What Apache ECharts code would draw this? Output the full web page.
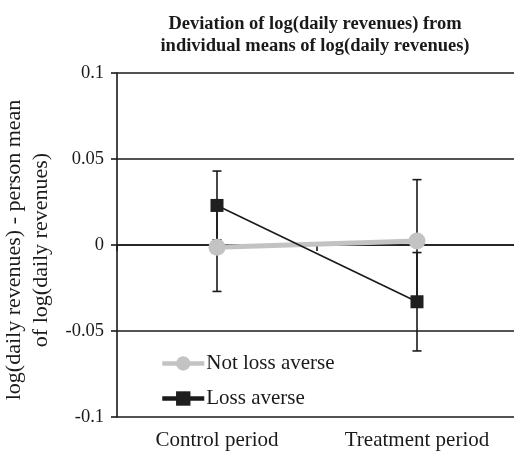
<!DOCTYPE html>
<html>
<head>
<meta charset="utf-8">
<script src="https://cdn.jsdelivr.net/npm/echarts@6/dist/echarts.min.js"></script>
<style>html,body{margin:0;padding:0;background:#fff;}#c{width:514px;height:451px;}</style>
</head>
<body>
<div id="c"></div>
<script>
var categories = ['Control period', 'Treatment period'];
var notLossAverse = [-0.0013, 0.0023];
var notLossAverseErr = [0.0257, 0.0357];
var lossAverse = [0.023, -0.033];
var lossAverseErr = [0.020, 0.0286];
var yTickLabels = ['-0.1', '-0.05', '0', '0.05', '0.1'];
var seriesNames = ['Not loss averse', 'Loss averse'];

var FONT = '"Liberation Serif", "Times New Roman", serif';
var chart = echarts.init(document.getElementById('c'));

function errData(vals, errs) {
  return vals.map(function (v, i) { return [i, v - errs[i], v + errs[i]]; });
}
function errRender(params, api) {
  var x = api.value(0);
  var lo = api.coord([x, api.value(1)]);
  var hi = api.coord([x, api.value(2)]);
  var w = 4.5;
  var st = { stroke: '#1a1a1a', lineWidth: 1.6 };
  return {
    type: 'group',
    children: [
      { type: 'line', shape: { x1: lo[0], y1: lo[1], x2: hi[0], y2: hi[1] }, style: st },
      { type: 'line', shape: { x1: lo[0] - w, y1: lo[1], x2: lo[0] + w, y2: lo[1] }, style: st },
      { type: 'line', shape: { x1: hi[0] - w, y1: hi[1], x2: hi[0] + w, y2: hi[1] }, style: st }
    ]
  };
}

chart.setOption({
  animation: false,
  backgroundColor: '#fff',
  title: {
    text: 'Deviation of log(daily revenues) from\nindividual means of log(daily revenues)',
    left: 310, top: 8, textAlign: 'center',
    textStyle: { fontFamily: FONT, fontWeight: 'bold', fontSize: 18.5, lineHeight: 22, color: '#1a1a1a' }
  },
  legend: {
    orient: 'vertical', left: 155, top: 348,
    itemWidth: 42, itemHeight: 18, itemGap: 14,
    data: [
      { name: seriesNames[0], lineStyle: { width: 4.5 } },
      { name: seriesNames[1], lineStyle: { width: 4.5 } }
    ],
    textStyle: { fontFamily: FONT, fontSize: 21, lineHeight: 20, color: '#1a1a1a', padding: [0, 0, 0, -3] }
  },
  grid: { left: 117, top: 73, width: 400, height: 344, containLabel: false, outerBoundsMode: 'none' },
  xAxis: {
    type: 'category', data: categories, boundaryGap: true,
    axisLine: { lineStyle: { color: '#1a1a1a', width: 1.6 } },
    axisTick: { show: true, length: 6, lineStyle: { color: '#1a1a1a', width: 1.6 } },
    axisLabel: { margin: 13, fontFamily: FONT, fontSize: 21, color: '#1a1a1a' },
    splitLine: { show: false }
  },
  yAxis: {
    type: 'value', min: -0.1, max: 0.1, interval: 0.05,
    name: 'log(daily revenues) - person mean\nof log(daily revenues)',
    nameLocation: 'middle', nameRotate: 90, nameGap: 51,
    nameTextStyle: { fontFamily: FONT, fontSize: 22, lineHeight: 27, color: '#1a1a1a', padding: [0, 10, 0, 0] },
    axisLine: { show: true, lineStyle: { color: '#1a1a1a', width: 1.6 } },
    axisTick: { show: true, length: 6, lineStyle: { color: '#1a1a1a', width: 1.6 } },
    axisLabel: {
      margin: 13, fontFamily: FONT, fontSize: 18.5, color: '#1a1a1a',
      formatter: function (v) {
        var idx = Math.round((v + 0.1) / 0.05);
        return yTickLabels[idx];
      }
    },
    splitLine: { show: true, lineStyle: { color: '#1a1a1a', width: 1.6 } }
  },
  series: [
    {
      type: 'custom', name: 'errNLA', renderItem: errRender,
      data: errData(notLossAverse, notLossAverseErr), z: 2, silent: true
    },
    {
      type: 'custom', name: 'errLA', renderItem: errRender,
      data: errData(lossAverse, lossAverseErr), z: 2, silent: true
    },
    {
      name: seriesNames[0], type: 'line', data: notLossAverse,
      symbol: 'circle', symbolSize: 17,
      lineStyle: { color: '#c3c3c3', width: 5 },
      itemStyle: { color: '#c3c3c3' }, z: 3
    },
    {
      name: seriesNames[1], type: 'line', data: lossAverse,
      symbol: 'rect', symbolSize: 13,
      lineStyle: { color: '#1a1a1a', width: 1.6 },
      itemStyle: { color: '#1f1f1f' }, z: 4
    }
  ]
});
</script>
</body>
</html>
